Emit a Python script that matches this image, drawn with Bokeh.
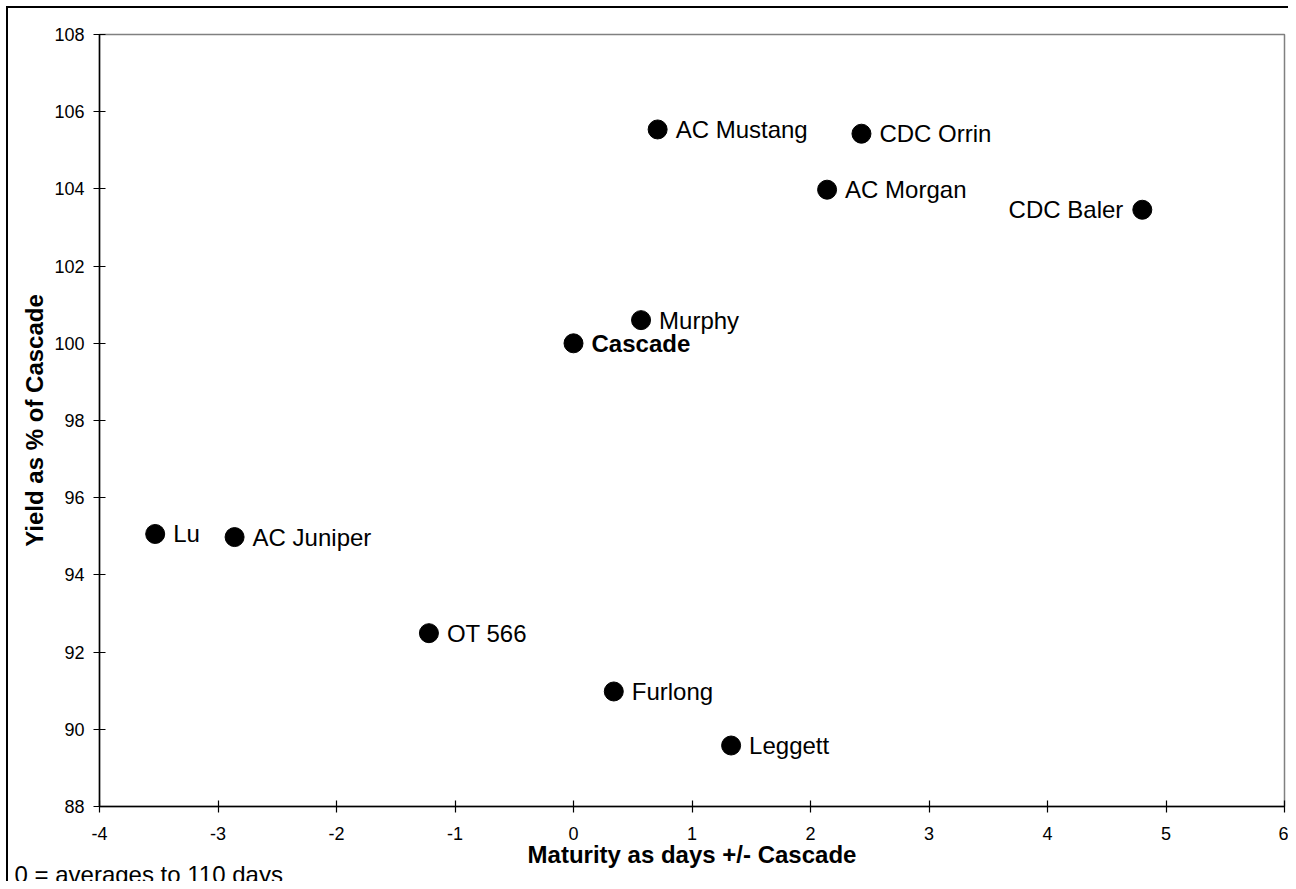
from bokeh.plotting import figure
from bokeh.models import ColumnDataSource, Range1d, FixedTicker, Title
from bokeh.embed import file_html
from bokeh.resources import INLINE
from bokeh.core.properties import value

names = ["Lu", "AC Juniper", "OT 566", "Furlong", "Leggett", "Cascade", "Murphy",
         "AC Mustang", "CDC Orrin", "AC Morgan", "CDC Baler"]
maturity = [-3.53, -2.86, -1.22, 0.34, 1.33, 0.0, 0.57, 0.71, 2.43, 2.14, 4.80]
yield_pct = [95.06, 94.98, 92.49, 90.98, 89.58, 100.0, 100.6, 105.54, 105.43, 103.98, 103.46]
x_ticks = [-4, -3, -2, -1, 0, 1, 2, 3, 4, 5, 6]
y_ticks = [88, 90, 92, 94, 96, 98, 100, 102, 104, 106, 108]
footnote = "0 = averages to 110 days"

FONT = "Liberation Sans"

p = figure(width=1288, height=881, output_backend="svg", toolbar_location=None,
           x_range=Range1d(-4, 6), y_range=Range1d(88, 108),
           min_border_left=99, min_border_right=4, min_border_top=34, min_border_bottom=75)
p.border_fill_color = None
p.background_fill_color = "white"
p.styles = {
    "background": "linear-gradient(#000,#000) 6px 6px / 2px calc(100% - 6px) no-repeat, "
                  "linear-gradient(#000,#000) 6px 6px / calc(100% - 6px) 2px no-repeat, #fff"
}
p.grid.visible = False
p.outline_line_color = "#808080"
p.outline_line_width = 1.5

for ax in (p.xaxis[0], p.yaxis[0]):
    ax.axis_line_color = "black"
    ax.axis_line_width = 1.5
    ax.major_tick_line_color = "black"
    ax.major_tick_line_width = 1.2
    ax.major_tick_in = 6
    ax.major_tick_out = 6
    ax.minor_tick_line_color = None
    ax.major_label_text_font = FONT
    ax.major_label_text_font_size = "18px"
    ax.major_label_text_color = "black"
    ax.axis_label_text_font = FONT
    ax.axis_label_text_font_size = "24px"
    ax.axis_label_text_font_style = "bold"
    ax.axis_label_text_color = "black"

p.xaxis.ticker = FixedTicker(ticks=x_ticks)
p.yaxis.ticker = FixedTicker(ticks=y_ticks)
p.xaxis.major_label_overrides = {t: str(t) for t in x_ticks}
p.yaxis.major_label_overrides = {t: str(t) for t in y_ticks}
p.xaxis.major_label_standoff = 14
p.yaxis.major_label_standoff = 9
p.xaxis.axis_label = "Maturity as days +/- Cascade"
p.yaxis.axis_label = "Yield as % of Cascade"
p.xaxis.axis_label_standoff = -2
p.yaxis.axis_label_standoff = 3

src = ColumnDataSource(dict(x=maturity, y=yield_pct, name=names))
p.scatter("x", "y", source=src, size=19, marker="circle", fill_color="black", line_color="black")

right_names = [n for n in names if n not in ("CDC Baler", "Cascade")]
rsrc = ColumnDataSource(dict(
    x=[maturity[names.index(n)] for n in right_names],
    y=[yield_pct[names.index(n)] for n in right_names],
    name=right_names))
p.text("x", "y", text="name", source=rsrc, x_offset=18, text_baseline="middle",
       text_align="left", text_font=value(FONT), text_font_size="24px", text_color="black")

bsrc = ColumnDataSource(dict(x=[maturity[names.index("Cascade")]], y=[yield_pct[names.index("Cascade")]], name=["Cascade"]))
p.text("x", "y", text="name", source=bsrc, x_offset=18, text_baseline="middle",
       text_align="left", text_font=value(FONT), text_font_size="24px", text_font_style="bold",
       text_color="black")

lsrc = ColumnDataSource(dict(x=[maturity[names.index("CDC Baler")]], y=[yield_pct[names.index("CDC Baler")]], name=["CDC Baler"]))
p.text("x", "y", text="name", source=lsrc, x_offset=-19, text_baseline="middle",
       text_align="right", text_font=value(FONT), text_font_size="24px", text_color="black")

note = Title(text=footnote, align="left", offset=-85, standoff=-23,
             text_font=FONT, text_font_size="24px", text_font_style="normal", text_color="black")
p.add_layout(note, "below")

open("out.html", "w").write(file_html(p, INLINE))
